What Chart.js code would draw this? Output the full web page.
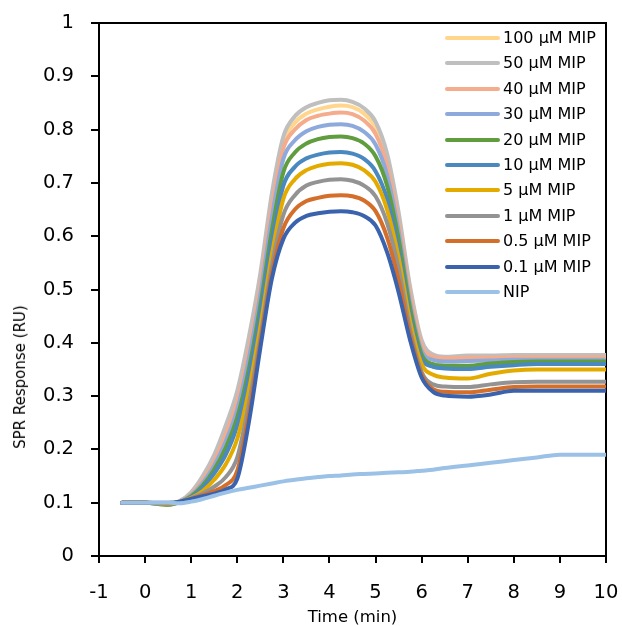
<!DOCTYPE html>
<html>
<head>
<meta charset="utf-8">
<script src="https://cdn.jsdelivr.net/npm/chart.js@4/dist/chart.umd.min.js"></script>
<style>
    body { margin: 0; background: #fff; }
    #wrap { position: relative; width: 622px; height: 626px; }
    #yTitle {
        position: absolute; left: 20px; top: 377px;
        transform: translate(-50%, -50%) rotate(-90deg);
        font: 15px "DejaVu Sans", sans-serif; white-space: nowrap; color: #000;
    }
    .leg { position: absolute; left: 445px; height: 20px; line-height: 20px; font: 16px "DejaVu Sans", sans-serif; color: #000; white-space: nowrap; }
    .leg span.swatch { position: absolute; left: 0; top: 8px; width: 55px; height: 4px; border-radius: 2px; }
    .leg span.txt { position: absolute; left: 58px; top: 0; }
</style>
</head>
<body>
<div id="wrap">
    <canvas id="sprChart" width="622" height="626"></canvas>
    <div id="yTitle">SPR Response (RU)</div>
    <div id="legend"></div>
</div>
<script>
const times = [-0.5, 0, 0.5, 0.75, 1, 1.25, 1.5, 1.75, 2, 2.25, 2.5, 2.75, 3, 3.25, 3.5, 3.75, 4, 4.25, 4.5, 4.75, 5, 5.25, 5.5, 5.75, 6, 6.25, 6.5, 7, 7.5, 8, 8.5, 9, 9.5, 10];

const seriesNames = ['100 µM MIP', '50 µM MIP', '40 µM MIP', '30 µM MIP', '20 µM MIP', '10 µM MIP', '5 µM MIP', '1 µM MIP', '0.5 µM MIP', '0.1 µM MIP', 'NIP'];
const seriesColors = ['#FFD68C', '#BFBFBF', '#F4AC8C', '#8EA9DB', '#609D3F', '#4A88C0', '#E3AB00', '#939393', '#D46E2B', '#3A62AD', '#9BC2E6'];

const mip100 = [0.1, 0.1, 0.097, 0.103, 0.118, 0.146, 0.183, 0.235, 0.298, 0.395, 0.515, 0.665, 0.775, 0.813, 0.83, 0.838, 0.843, 0.845, 0.842, 0.83, 0.805, 0.745, 0.635, 0.5, 0.4, 0.376, 0.372, 0.373, 0.374, 0.375, 0.375, 0.375, 0.375, 0.375];
const mip50 = [0.1, 0.1, 0.097, 0.103, 0.12, 0.15, 0.19, 0.245, 0.31, 0.41, 0.53, 0.68, 0.787, 0.825, 0.842, 0.85, 0.855, 0.856, 0.852, 0.84, 0.815, 0.755, 0.645, 0.505, 0.405, 0.378, 0.374, 0.376, 0.376, 0.377, 0.377, 0.377, 0.377, 0.377];
const mip40 = [0.1, 0.1, 0.096, 0.102, 0.116, 0.142, 0.178, 0.228, 0.29, 0.385, 0.505, 0.655, 0.765, 0.8, 0.818, 0.826, 0.83, 0.832, 0.829, 0.817, 0.792, 0.733, 0.625, 0.49, 0.395, 0.374, 0.371, 0.372, 0.372, 0.373, 0.373, 0.373, 0.373, 0.373];
const mip30 = [0.1, 0.1, 0.097, 0.102, 0.114, 0.137, 0.17, 0.215, 0.275, 0.37, 0.49, 0.635, 0.745, 0.78, 0.797, 0.805, 0.809, 0.81, 0.807, 0.796, 0.772, 0.715, 0.61, 0.475, 0.385, 0.368, 0.365, 0.366, 0.367, 0.368, 0.368, 0.368, 0.368, 0.368];
const mip20 = [0.1, 0.1, 0.096, 0.101, 0.112, 0.132, 0.162, 0.203, 0.26, 0.35, 0.47, 0.61, 0.72, 0.757, 0.774, 0.782, 0.786, 0.787, 0.784, 0.774, 0.75, 0.695, 0.595, 0.465, 0.378, 0.36, 0.357, 0.357, 0.361, 0.364, 0.365, 0.365, 0.365, 0.365];
const mip10 = [0.1, 0.1, 0.098, 0.101, 0.11, 0.128, 0.155, 0.19, 0.245, 0.335, 0.455, 0.59, 0.695, 0.73, 0.746, 0.753, 0.757, 0.758, 0.755, 0.745, 0.722, 0.67, 0.575, 0.45, 0.37, 0.355, 0.352, 0.351, 0.355, 0.358, 0.36, 0.36, 0.36, 0.36];
const mip5 = [0.1, 0.1, 0.098, 0.101, 0.109, 0.122, 0.143, 0.172, 0.22, 0.31, 0.43, 0.565, 0.67, 0.707, 0.724, 0.732, 0.736, 0.737, 0.734, 0.724, 0.702, 0.65, 0.56, 0.44, 0.36, 0.34, 0.335, 0.333, 0.342, 0.348, 0.35, 0.35, 0.35, 0.35];
const mip1 = [0.1, 0.1, 0.099, 0.101, 0.108, 0.117, 0.13, 0.148, 0.185, 0.285, 0.41, 0.545, 0.64, 0.677, 0.695, 0.702, 0.706, 0.707, 0.704, 0.695, 0.675, 0.625, 0.54, 0.425, 0.345, 0.322, 0.318, 0.317, 0.322, 0.326, 0.327, 0.327, 0.327, 0.327];
const mip05 = [0.1, 0.1, 0.099, 0.101, 0.107, 0.114, 0.122, 0.133, 0.16, 0.265, 0.4, 0.53, 0.615, 0.65, 0.666, 0.672, 0.676, 0.677, 0.675, 0.667, 0.647, 0.598, 0.518, 0.415, 0.34, 0.313, 0.308, 0.307, 0.312, 0.317, 0.318, 0.318, 0.318, 0.318];
const mip01 = [0.1, 0.1, 0.1, 0.102, 0.107, 0.112, 0.117, 0.125, 0.145, 0.25, 0.39, 0.52, 0.595, 0.625, 0.638, 0.643, 0.646, 0.647, 0.645, 0.638, 0.62, 0.57, 0.495, 0.405, 0.335, 0.308, 0.301, 0.299, 0.303, 0.31, 0.31, 0.31, 0.31, 0.31];
const nip = [0.1, 0.1, 0.1, 0.099, 0.102, 0.107, 0.113, 0.119, 0.124, 0.128, 0.132, 0.136, 0.14, 0.143, 0.146, 0.148, 0.15, 0.151, 0.153, 0.154, 0.155, 0.156, 0.157, 0.158, 0.16, 0.162, 0.165, 0.17, 0.175, 0.18, 0.185, 0.19, 0.19, 0.19];

const xTicks = [-1, 0, 1, 2, 3, 4, 5, 6, 7, 8, 9, 10];
const yTicks = [0, 0.1, 0.2, 0.3, 0.4, 0.5, 0.6, 0.7, 0.8, 0.9, 1];

const allSeries = [mip100, mip50, mip40, mip30, mip20, mip10, mip5, mip1, mip05, mip01, nip];

document.addEventListener('DOMContentLoaded', () => {
    // legend, same order as the series
    const legend = document.getElementById('legend');
    seriesNames.forEach((name, i) => {
        const row = document.createElement('div');
        row.className = 'leg';
        row.style.top = (28 + i * 25.4) + 'px';
        row.innerHTML = '<span class="swatch" style="background:' + seriesColors[i] + '"></span><span class="txt">' + name + '</span>';
        legend.appendChild(row);
    });
    sprChart();
});

function sprChart() {
    const n = allSeries.length;
    const datasets = allSeries.map((vals, i) => ({
        label: seriesNames[i],
        data: times.map((t, j) => ({ x: t, y: vals[j] })),
        borderColor: seriesColors[i],
        backgroundColor: seriesColors[i],
        borderWidth: 4,
        borderCapStyle: 'round',
        pointRadius: 0,
        cubicInterpolationMode: 'monotone',
        fill: false,
        order: n - i   // later series on top, like the original
    }));

    const tickFont = { family: 'DejaVu Sans', size: 19.5 };
    const ctx = document.getElementById('sprChart').getContext('2d');
    new Chart(ctx, {
        type: 'line',
        data: { datasets: datasets },
        options: {
            responsive: false,
            animation: false,
            layout: { padding: { left: 0, right: 16, top: 23, bottom: 0 } },
            plugins: { legend: { display: false }, tooltip: { enabled: false } },
            scales: {
                x: {
                    type: 'linear',
                    min: -1,
                    max: 10,
                    afterBuildTicks: s => { s.ticks = xTicks.map(v => ({ value: v })); },
                    afterFit: s => { s.height = 70; s.paddingLeft = 0; s.paddingRight = 0; },
                    ticks: { font: tickFont, color: '#000', padding: 18, maxRotation: 0 },
                    grid: { drawOnChartArea: false, tickLength: 7, color: '#000', lineWidth: 2 },
                    border: { color: '#000', width: 2 },
                    title: { display: true, text: 'Time (min)', color: '#000', font: { family: 'DejaVu Sans', size: 16.5 }, padding: { top: 0, bottom: -2 } }
                },
                y: {
                    min: 0,
                    max: 1,
                    afterBuildTicks: s => { s.ticks = yTicks.map(v => ({ value: v })); },
                    afterFit: s => { s.width = 99; s.paddingTop = 0; s.paddingBottom = 0; },
                    ticks: { font: tickFont, color: '#000', padding: 17, callback: v => String(v) },
                    grid: { drawOnChartArea: false, tickLength: 8, color: '#000', lineWidth: 2 },
                    border: { color: '#000', width: 2 }
                },
                xTop: {
                    type: 'linear', position: 'top', min: -1, max: 10,
                    ticks: { display: false }, grid: { display: false },
                    border: { color: '#000', width: 2 },
                    afterFit: s => { s.height = 0; }
                },
                yRight: {
                    position: 'right', min: 0, max: 1,
                    ticks: { display: false }, grid: { display: false },
                    border: { color: '#000', width: 2 },
                    afterFit: s => { s.width = 0; }
                }
            }
        }
    });
}
</script>
</body>
</html>
